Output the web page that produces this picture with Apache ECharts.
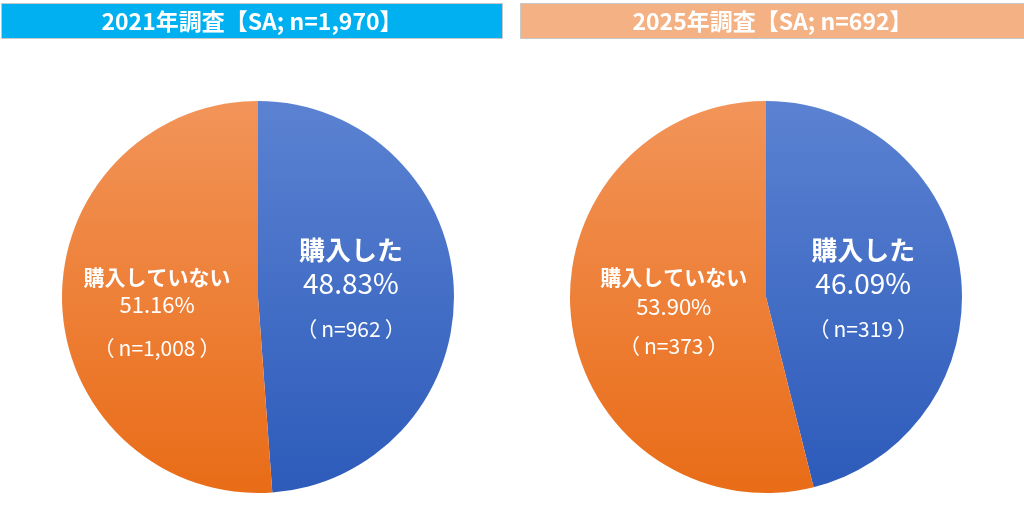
<!DOCTYPE html>
<html><head><meta charset="utf-8">
<script src="https://cdn.jsdelivr.net/npm/echarts@6/dist/echarts.min.js"></script>
<style>html,body{margin:0;padding:0;background:#fff}#c{width:1024px;height:509px}</style>
</head><body><div id="c"></div>
<script>
const titles = ['2021年調査【SA; n=1,970】', '2025年調査【SA; n=692】'];
const categories = ['購入した', '購入していない'];
const pct2021 = [48.83, 51.16];
const cnt2021 = [962, 1008];
const pct2025 = [46.09, 53.90];
const cnt2025 = [319, 373];

const FONT = '"Noto Sans CJK JP", sans-serif';
const blueGrad = new echarts.graphic.LinearGradient(0, 0, 0, 1, [{offset: 0, color: '#5B82D2'}, {offset: 1, color: '#2D5BBA'}]);
const orangeGrad = new echarts.graphic.LinearGradient(0, 0, 0, 1, [{offset: 0, color: '#F29459'}, {offset: 1, color: '#E96C17'}]);

function fmtN(n) { return n.toLocaleString('en-US'); }

// per-label layout tweaks: [fontA, fontB, fontC, lhA, lhB, lhC, padding]
const layouts = {
  '2021-0': [26, 28, 21, 34, 34, 56, [3, 16, 0, 0]],
  '2021-1': [21, 22, 21, 28, 28, 58, [38, 0, 0, 0]],
  '2025-0': [26, 28, 21, 34, 34, 56, [20, 6, 0, 0]],
  '2025-1': [21, 22, 21, 28, 30, 50, [16, 0, 0, 16]]
};

function labelFor(key, i, pct, cnt) {
  const L = layouts[key];
  return {
    padding: L[6],
    formatter: '{a|' + categories[i] + '}\n{b|' + pct.toFixed(2) + '%}\n{p|（}{c|n=' + fmtN(cnt) + '}{q|）}',
    rich: {
      a: {fontSize: L[0], fontWeight: 'bold', color: '#fff', lineHeight: L[3], fontFamily: FONT},
      b: {fontSize: L[1], color: '#fff', lineHeight: L[4], fontFamily: FONT},
      c: {fontSize: L[2], color: '#fff', lineHeight: L[5], fontFamily: FONT},
      p: {fontSize: L[2], color: '#fff', lineHeight: L[5], fontFamily: FONT, padding: [0, 4, 0, 0]},
      q: {fontSize: L[2], color: '#fff', lineHeight: L[5], fontFamily: FONT, padding: [0, 0, 0, 4]}
    }
  };
}

function pieSeries(year, cx, pcts, cnts) {
  return {
    type: 'pie',
    center: [cx, 297],
    radius: [0, 196],
    startAngle: 90,
    clockwise: true,
    silent: true,
    animation: false,
    label: {show: true, position: 'inside'},
    labelLine: {show: false},
    itemStyle: {borderWidth: 0},
    data: pcts.map((v, i) => ({
      name: categories[i],
      value: v,
      itemStyle: {color: i === 0 ? blueGrad : orangeGrad},
      label: labelFor(year + '-' + i, i, v, cnts[i])
    }))
  };
}

const chart = echarts.init(document.getElementById('c'), null, {renderer: 'canvas'});
chart.setOption({
  animation: false,
  graphic: [
    {type: 'rect', shape: {x: 1.5, y: 3.5, width: 501, height: 35}, style: {fill: '#00B0F0', stroke: '#C8C8C8', lineWidth: 1},
     textContent: {style: {text: titles[0], fill: '#fff', font: 'bold 23px ' + FONT}}, textConfig: {position: 'inside'}},
    {type: 'rect', shape: {x: 520.5, y: 3.5, width: 504, height: 35}, style: {fill: '#F4B183', stroke: '#C8C8C8', lineWidth: 1},
     textContent: {style: {text: titles[1], fill: '#fff', font: 'bold 23px ' + FONT}}, textConfig: {position: 'inside'}}
  ],
  series: [pieSeries('2021', 258, pct2021, cnt2021), pieSeries('2025', 766, pct2025, cnt2025)]
});
</script></body></html>
